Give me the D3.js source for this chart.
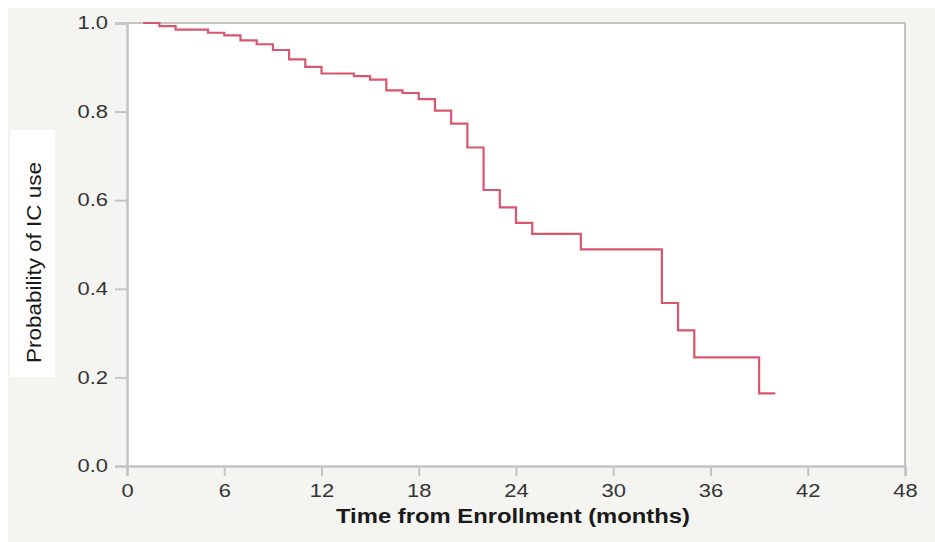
<!DOCTYPE html>
<html>
<head>
<meta charset="utf-8">
<script src="https://cdn.jsdelivr.net/npm/d3@7"></script>
<style>
  html, body { margin: 0; padding: 0; background: #ffffff; }
  svg { display: block; }
</style>
</head>
<body>
<svg id="chart" width="935" height="542"></svg>
<script>
// Kaplan-Meier estimate of IC use: step times (months) and survival probability after each step
const stepTimes = [1, 2, 3, 5, 6, 7, 8, 9, 10, 11, 12, 14, 15, 16, 17, 18, 19, 20, 21, 22, 23, 24, 25, 28, 33, 34, 35, 39];
const survival  = [1.0, 0.993, 0.985, 0.978, 0.972, 0.961, 0.952, 0.939, 0.918, 0.901, 0.886, 0.880, 0.872, 0.848, 0.842, 0.828, 0.802, 0.773, 0.719, 0.623, 0.584, 0.549, 0.524, 0.489, 0.368, 0.306, 0.245, 0.164];
const lastTime = 40;

const xTicks = [0, 6, 12, 18, 24, 30, 36, 42, 48];
const yTicks = [0, 0.2, 0.4, 0.6, 0.8, 1.0];
const xTitle = "Time from Enrollment (months)";
const yTitle = "Probability of IC use";

const FONT = "Liberation Sans, Arial, sans-serif";
const svg = d3.select("#chart");
const W = 935, H = 542;
const plot = { left: 127, right: 905, top: 23, bottom: 466 };

// panel backgrounds
svg.append("rect").attr("x", 8).attr("y", 8).attr("width", W - 8).attr("height", H - 8)
  .attr("fill", "#f4f4f1");
svg.append("rect").attr("x", plot.left).attr("y", plot.top)
  .attr("width", plot.right - plot.left).attr("height", plot.bottom - plot.top)
  .attr("fill", "#ffffff");

const x = d3.scaleLinear().domain([0, 48]).range([plot.left, plot.right]);
const y = d3.scaleLinear().domain([0, 1]).range([plot.bottom, plot.top]);

// frame: top and right edges
svg.append("path")
  .attr("d", `M${plot.left},${plot.top}H${plot.right}V${plot.bottom}`)
  .attr("fill", "none").attr("stroke", "#c4c4c4").attr("stroke-width", 2);

// axes
const xAxis = svg.append("g").attr("transform", `translate(0,${plot.bottom})`)
  .call(d3.axisBottom(x).tickValues(xTicks).tickSize(10).tickPadding(8).tickFormat(d3.format("d")));
const yAxis = svg.append("g").attr("transform", `translate(${plot.left},0)`)
  .call(d3.axisLeft(y).tickValues(yTicks).tickSize(12).tickPadding(7).tickFormat(d3.format(".1f")));

// widen tick labels horizontally around their anchor point
function stretch(sel, sx) {
  sel.each(function () {
    const t = d3.select(this);
    const x0 = +t.attr("x") || 0;
    t.attr("x", 0).attr("transform", `translate(${x0},0) scale(${sx},1)`);
  });
}

[xAxis, yAxis].forEach(g => {
  g.select(".domain").attr("stroke", "#c4c4c4").attr("stroke-width", 2.5);
  g.selectAll(".tick line").attr("stroke", "#c4c4c4").attr("stroke-width", 2);
  g.selectAll(".tick text").attr("fill", "#333").attr("font-family", FONT)
    .attr("font-size", 18);
  stretch(g.selectAll(".tick text"), 1.22);
});
xAxis.selectAll(".tick text").attr("dy", "0.70em");

// step curve
const pts = stepTimes.map((t, i) => [t, survival[i]]);
pts.push([lastTime, survival[survival.length - 1]]);
const line = d3.line().x(d => x(d[0])).y(d => y(d[1])).curve(d3.curveStepAfter);
svg.append("path").datum(pts)
  .attr("d", line)
  .attr("fill", "none")
  .attr("stroke", "#d9566f")
  .attr("stroke-width", 2.2);

// axis titles
svg.append("text")
  .attr("x", 336).attr("y", 523)
  .attr("font-family", FONT)
  .attr("font-weight", "bold").attr("font-size", 19.5).attr("fill", "#1a1a1a")
  .attr("textLength", 354).attr("lengthAdjust", "spacingAndGlyphs")
  .text(xTitle);

svg.append("rect").attr("x", 10).attr("y", 130).attr("width", 45).attr("height", 247).attr("fill", "#ffffff");
svg.append("text")
  .attr("transform", "translate(41,363) rotate(-90)")
  .attr("font-family", FONT)
  .attr("font-size", 20).attr("fill", "#1a1a1a")
  .attr("textLength", 201).attr("lengthAdjust", "spacingAndGlyphs")
  .text(yTitle);
</script>
</body>
</html>
